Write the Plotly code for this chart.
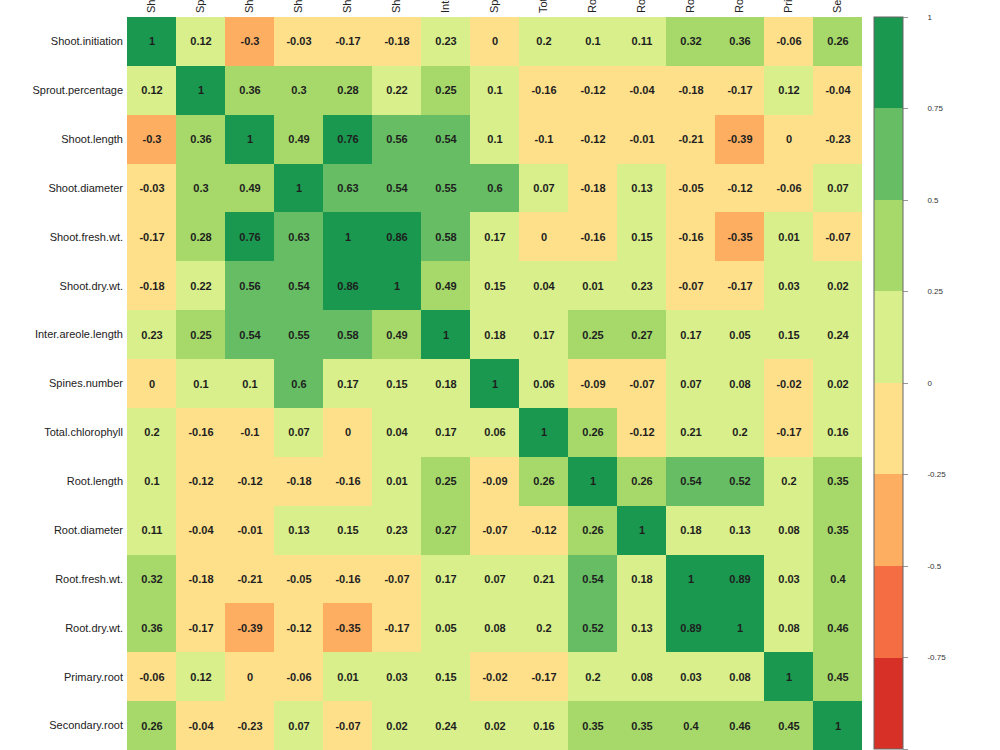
import plotly.graph_objects as go

labels = ["Shoot.initiation", "Sprout.percentage", "Shoot.length", "Shoot.diameter",
          "Shoot.fresh.wt.", "Shoot.dry.wt.", "Inter.areole.length", "Spines.number",
          "Total.chlorophyll", "Root.length", "Root.diameter", "Root.fresh.wt.",
          "Root.dry.wt.", "Primary.root", "Secondary.root"]

# correlation values (cells shown as "0" are slightly negative: they use the peach bin)
corr = [
    [1, 0.12, -0.3, -0.03, -0.17, -0.18, 0.23, -0.001, 0.2, 0.1, 0.11, 0.32, 0.36, -0.06, 0.26],
    [0.12, 1, 0.36, 0.3, 0.28, 0.22, 0.25, 0.1, -0.16, -0.12, -0.04, -0.18, -0.17, 0.12, -0.04],
    [-0.3, 0.36, 1, 0.49, 0.76, 0.56, 0.54, 0.1, -0.1, -0.12, -0.01, -0.21, -0.39, -0.001, -0.23],
    [-0.03, 0.3, 0.49, 1, 0.63, 0.54, 0.55, 0.6, 0.07, -0.18, 0.13, -0.05, -0.12, -0.06, 0.07],
    [-0.17, 0.28, 0.76, 0.63, 1, 0.86, 0.58, 0.17, -0.001, -0.16, 0.15, -0.16, -0.35, 0.01, -0.07],
    [-0.18, 0.22, 0.56, 0.54, 0.86, 1, 0.49, 0.15, 0.04, 0.01, 0.23, -0.07, -0.17, 0.03, 0.02],
    [0.23, 0.25, 0.54, 0.55, 0.58, 0.49, 1, 0.18, 0.17, 0.25, 0.27, 0.17, 0.05, 0.15, 0.24],
    [-0.001, 0.1, 0.1, 0.6, 0.17, 0.15, 0.18, 1, 0.06, -0.09, -0.07, 0.07, 0.08, -0.02, 0.02],
    [0.2, -0.16, -0.1, 0.07, -0.001, 0.04, 0.17, 0.06, 1, 0.26, -0.12, 0.21, 0.2, -0.17, 0.16],
    [0.1, -0.12, -0.12, -0.18, -0.16, 0.01, 0.25, -0.09, 0.26, 1, 0.26, 0.54, 0.52, 0.2, 0.35],
    [0.11, -0.04, -0.01, 0.13, 0.15, 0.23, 0.27, -0.07, -0.12, 0.26, 1, 0.18, 0.13, 0.08, 0.35],
    [0.32, -0.18, -0.21, -0.05, -0.16, -0.07, 0.17, 0.07, 0.21, 0.54, 0.18, 1, 0.89, 0.03, 0.4],
    [0.36, -0.17, -0.39, -0.12, -0.35, -0.17, 0.05, 0.08, 0.2, 0.52, 0.13, 0.89, 1, 0.08, 0.46],
    [-0.06, 0.12, -0.001, -0.06, 0.01, 0.03, 0.15, -0.02, -0.17, 0.2, 0.08, 0.03, 0.08, 1, 0.45],
    [0.26, -0.04, -0.23, 0.07, -0.07, 0.02, 0.24, 0.02, 0.16, 0.35, 0.35, 0.4, 0.46, 0.45, 1],
]

bin_colors = ["#d73027", "#f46d43", "#fdae61", "#fee08b",
              "#d9ef8b", "#a6d96a", "#66bd63", "#1a9850"]
cbar_ticks = [-1, -0.75, -0.5, -0.25, 0, 0.25, 0.5, 0.75, 1]

FONT = "Liberation Sans, Arial, sans-serif"


def fmt(v):
    r = round(v, 2) + 0.0
    return f"{r:g}"


text = [[fmt(v) for v in row] for row in corr]

n = len(bin_colors)
colorscale = []
for i, c in enumerate(bin_colors):
    colorscale.append([i / n, c])
    colorscale.append([(i + 1) / n, c])

idx = list(range(len(labels)))

fig = go.Figure(go.Heatmap(
    z=corr, x=idx, y=idx, text=text, texttemplate="<b>%{text}</b>",
    textfont=dict(family=FONT, size=11, color="#1e1e1e"),
    colorscale=colorscale, zmin=-1, zmax=1, hoverinfo="skip",
    colorbar=dict(
        x=(874 - 127) / 735, xanchor="left", xpad=0,
        y=1, yanchor="top", ypad=0,
        len=732, lenmode="pixels", thickness=29, thicknessmode="pixels",
        outlinecolor="#666666", outlinewidth=1,
        tickvals=cbar_ticks,
        ticktext=["\u00a0" * 8 + f"{t:g}" for t in cbar_ticks],
        ticks="outside", ticklen=5, tickcolor="#999999",
        tickfont=dict(family=FONT, size=8, color="#333333"),
    ),
))

fig.update_layout(
    width=1000, height=750,
    margin=dict(l=127, r=138, t=17, b=0, autoexpand=False),
    paper_bgcolor="white", plot_bgcolor="white",
    xaxis=dict(side="top", tickmode="array", tickvals=idx, ticktext=labels,
               tickangle=-90, range=[-0.5, 14.5], showgrid=False, zeroline=False,
               ticks="", automargin=False, ticklabelstandoff=3,
               tickfont=dict(family=FONT, size=11, color="#222222")),
    yaxis=dict(tickmode="array", tickvals=idx, ticktext=labels,
               range=[14.5, -0.5], showgrid=False, zeroline=False, ticks="",
               automargin=False, ticklabelstandoff=3,
               tickfont=dict(family=FONT, size=11, color="#222222")),
)

fig.write_html("out.html")
